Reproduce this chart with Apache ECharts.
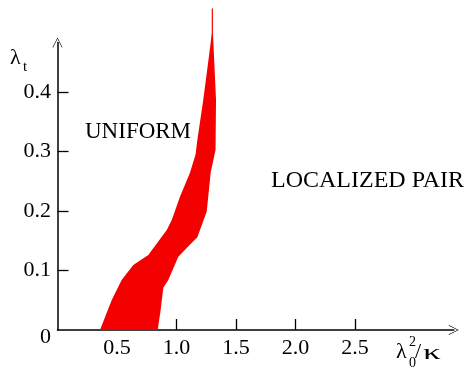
<!DOCTYPE html>
<html>
<head>
<meta charset="utf-8">
<script src="https://cdn.jsdelivr.net/npm/echarts@6/dist/echarts.min.js"></script>
<style>
html,body{margin:0;padding:0;background:#fff;}
#chart{width:465px;height:367px;}
</style>
</head>
<body>
<div id="chart"></div>
<script>
// Tick values
const xTicks = [0.5, 1.0, 1.5, 2.0, 2.5];
const yTicks = [0, 0.1, 0.2, 0.3, 0.4];
const yTickMarks = [0.1, 0.2, 0.3, 0.4];

// Phase boundary of region M: left edge (bottom -> top)
const leftX = [0.357, 0.455, 0.539, 0.637, 0.763, 0.918, 0.960, 1.029, 1.113, 1.160, 1.175, 1.225, 1.287, 1.296, 1.296];
const leftY = [0.000, 0.050, 0.084, 0.109, 0.126, 0.168, 0.185, 0.224, 0.264, 0.295, 0.319, 0.387, 0.482, 0.499, 0.540];
// right edge (top -> bottom)
const rightX = [1.306, 1.306, 1.310, 1.332, 1.328, 1.287, 1.254, 1.175, 1.110, 1.015, 0.931, 0.889, 0.867, 0.842];
const rightY = [0.540, 0.499, 0.482, 0.387, 0.303, 0.264, 0.199, 0.156, 0.143, 0.123, 0.084, 0.071, 0.034, 0.000];

const FONT = 'Liberation Serif, DejaVu Serif, serif';
const chart = echarts.init(document.getElementById('chart'), null, {renderer: 'canvas'});

const arrowPath = 'path://M0,0 L10,20 L8.6,20 L0,2.6 L-8.6,20 L-10,20 Z';
const txt = (size) => ({fontFamily: FONT, fontSize: size, fill: '#000'});

chart.setOption({
  animation: false,
  backgroundColor: '#fff',
  grid: {left: 57.5, right: 11.2, top: 42.5, bottom: 37, containLabel: false},
  xAxis: {
    type: 'value', min: 0, max: 3.33,
    splitLine: {show: false},
    axisLine: {show: true, lineStyle: {color: '#000', width: 1.5},
      symbol: ['none', arrowPath], symbolSize: [10, 16]},
    axisTick: {show: true, inside: true, length: 11, lineStyle: {color: '#000', width: 1.3}, customValues: xTicks},
    axisLabel: {customValues: xTicks, margin: 7, color: '#000', fontFamily: FONT, fontSize: 22,
      formatter: v => v.toFixed(1)}
  },
  yAxis: {
    type: 'value', min: 0, max: 0.483,
    splitLine: {show: false},
    axisLine: {show: true, lineStyle: {color: '#000', width: 1.5},
      symbol: ['none', arrowPath], symbolSize: [10, 15]},
    axisTick: {show: true, inside: true, length: 11, lineStyle: {color: '#000', width: 1.3}, customValues: yTickMarks},
    axisLabel: {customValues: yTicks, margin: 6.5, color: '#000', fontFamily: FONT, fontSize: 22,
      formatter: v => v === 0 ? '{z|0}' : v.toFixed(1),
      rich: {z: {fontFamily: FONT, fontSize: 22, color: '#000', padding: [14, 0, 0, 0]}}}
  },
  series: [{
    type: 'custom',
    clip: false,
    silent: true,
    data: [0],
    renderItem: function (params, api) {
      const pts = [];
      for (let i = 0; i < leftX.length; i++) pts.push(api.coord([leftX[i], leftY[i]]));
      for (let i = 0; i < rightX.length; i++) pts.push(api.coord([rightX[i], rightY[i]]));
      return {type: 'polygon', shape: {points: pts},
        style: {fill: '#f40000', stroke: null}};
    }
  }],
  graphic: [
    {type: 'text', left: 85, top: 120, style: Object.assign({text: 'UNIFORM'}, txt(23))},
    {type: 'text', left: 271, top: 169, style: Object.assign({text: 'LOCALIZED PAIR'}, txt(24))},
    {type: 'text', left: 135, top: 275, style: Object.assign({text: 'M'}, txt(23))},
    {type: 'text', left: 10, top: 47, style: Object.assign({text: 'λ'}, txt(22))},
    {type: 'text', left: 23, top: 60, style: Object.assign({text: 't'}, txt(15))},
    {type: 'text', left: 396, top: 341, style: Object.assign({text: 'λ'}, txt(22))},
    {type: 'text', left: 409, top: 335, style: Object.assign({text: '2'}, txt(14))},
    {type: 'text', left: 409, top: 356, style: Object.assign({text: '0'}, txt(14))},
    {type: 'text', left: 415, top: 341, style: Object.assign({text: '/'}, txt(22))},
    {type: 'text', x: 423, y: 342, scaleX: 1.6, style: Object.assign({text: 'κ', verticalAlign: 'top'}, txt(22))}
  ]
});
</script>
</body>
</html>
